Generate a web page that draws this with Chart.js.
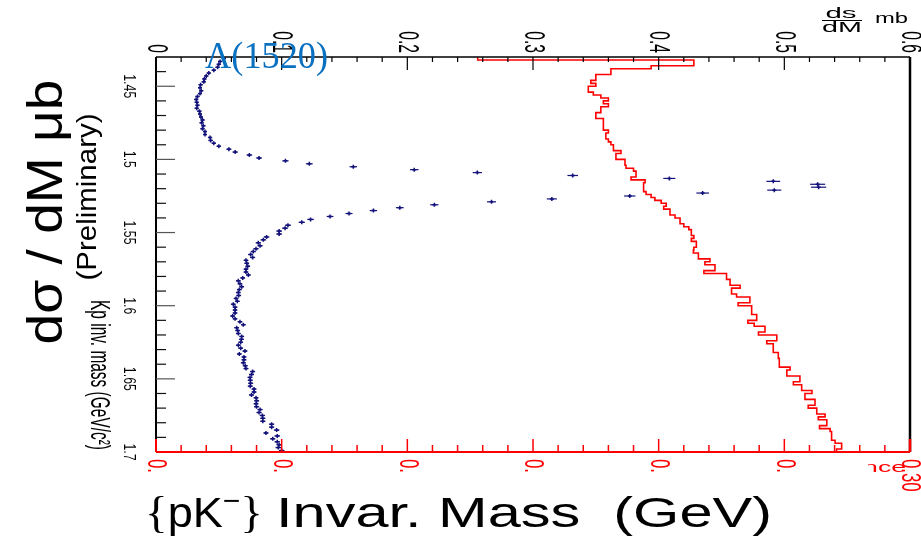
<!DOCTYPE html>
<html>
<head>
<meta charset="utf-8">
<script src="https://cdn.jsdelivr.net/npm/chart.js@4.4.1/dist/chart.umd.min.js"></script>
<style>
  html, body { margin: 0; padding: 0; background: #fff; }
  #wrap { width: 921px; height: 544px; position: relative; }
</style>
</head>
<body>
<div id="wrap"><canvas id="massChart" width="921" height="544"></canvas></div>
<script>
// K-p invariant mass bin centres (GeV), 2 MeV bins
const massCenters = [
  1.431,1.433,1.435,1.437,1.439,1.441,1.443,1.445,1.447,1.449,
  1.451,1.453,1.455,1.457,1.459,1.461,1.463,1.465,1.467,1.469,
  1.471,1.473,1.475,1.477,1.479,1.481,1.483,1.485,1.487,1.489,
  1.491,1.493,1.495,1.497,1.499,1.501,1.503,1.505,1.507,1.509,
  1.511,1.513,1.515,1.517,1.519,1.521,1.523,1.525,1.527,1.529,
  1.531,1.533,1.535,1.537,1.539,1.541,1.543,1.545,1.547,1.549,
  1.551,1.553,1.555,1.557,1.559,1.561,1.563,1.565,1.567,1.569,
  1.571,1.573,1.575,1.577,1.579,1.581,1.583,1.585,1.587,1.589,
  1.591,1.593,1.595,1.597,1.599,1.601,1.603,1.605,1.607,1.609,
  1.611,1.613,1.615,1.617,1.619,1.621,1.623,1.625,1.627,1.629,
  1.631,1.633,1.635,1.637,1.639,1.641,1.643,1.645,1.647,1.649,
  1.651,1.653,1.655,1.657,1.659,1.661,1.663,1.665,1.667,1.669,
  1.671,1.673,1.675,1.677,1.679,1.681,1.683,1.685,1.687,1.689,
  1.691,1.693,1.695,1.697,1.699
];

// dsigma/dM (mb), blue points
const xsValues = [
  0.054,0.051,0.050,0.049,0.046,0.042,0.040,0.0385,0.038,0.0355,
  0.035,0.036,0.035,0.033,0.032,0.0324,0.033,0.0324,0.0345,0.035,
  0.0358,0.037,0.0363,0.0377,0.037,0.039,0.039,0.043,0.0435,0.046,
  0.050,0.058,0.063,0.0743,0.082,0.103,0.122,0.157,0.2055,0.2557,
  0.3316,0.4085,0.4912,0.5265,0.5273,0.492,0.435,0.377,0.315,0.267,
  0.2215,0.194,0.173,0.1536,0.1385,0.123,0.116,0.105,0.1027,0.098,
  0.098,0.088,0.0854,0.0814,0.0828,0.0796,0.0774,0.0753,0.0769,0.0716,
  0.0722,0.073,0.0716,0.0716,0.0735,0.069,0.0655,0.0668,0.0682,0.0663,
  0.0655,0.0658,0.0637,0.0647,0.0615,0.0629,0.0629,0.0629,0.061,0.0629,
  0.0668,0.0695,0.0642,0.065,0.0655,0.0682,0.068,0.0674,0.0655,0.0674,
  0.0708,0.0663,0.070,0.070,0.0695,0.071,0.0716,0.0769,0.076,0.0748,
  0.075,0.0753,0.075,0.078,0.078,0.076,0.0796,0.0801,0.0796,0.080,
  0.0828,0.082,0.0846,0.085,0.085,0.092,0.092,0.096,0.0875,0.0965,
  0.0929,0.0965,0.098,0.0973,0.100
];

// statistical errors on dsigma/dM (mb)
const xsErrors = [
  0.0017,0.0017,0.0017,0.0017,0.0017,0.0016,0.0016,0.0016,0.0016,0.0016,
  0.0016,0.0016,0.0016,0.0016,0.0016,0.0016,0.0016,0.0016,0.0016,0.0016,
  0.0016,0.0016,0.0016,0.0016,0.0016,0.0016,0.0016,0.0017,0.0017,0.0017,
  0.0018,0.0020,0.0021,0.0022,0.0023,0.0025,0.0027,0.0030,0.0034,0.0037,
  0.0042,0.0048,0.0055,0.0060,0.0060,0.0056,0.0050,0.0045,0.0040,0.0036,
  0.0033,0.0031,0.0029,0.0028,0.0027,0.0026,0.0025,0.0024,0.0024,0.0023,
  0.0023,0.0022,0.0022,0.0021,0.0021,0.0021,0.0020,0.0020,0.0020,0.0019,
  0.0019,0.0019,0.0019,0.0019,0.0019,0.0019,0.0019,0.0019,0.0019,0.0019,
  0.0019,0.0019,0.0019,0.0019,0.0019,0.0019,0.0019,0.0019,0.0019,0.0019,
  0.0019,0.0019,0.0019,0.0019,0.0019,0.0019,0.0019,0.0019,0.0019,0.0019,
  0.0020,0.0019,0.0020,0.0020,0.0020,0.0020,0.0020,0.0020,0.0020,0.0020,
  0.0020,0.0020,0.0020,0.0020,0.0020,0.0020,0.0020,0.0020,0.0020,0.0020,
  0.0021,0.0021,0.0021,0.0021,0.0021,0.0021,0.0021,0.0022,0.0021,0.0022,
  0.0021,0.0022,0.0022,0.0022,0.0022
];

// acceptance, red histogram
const acceptance = [
  0.128,0.214,0.214,0.197,0.181,0.181,0.175,0.175,0.173,0.175,
  0.172,0.172,0.174,0.177,0.180,0.178,0.180,0.177,0.177,0.175,
  0.175,0.178,0.178,0.178,0.178,0.180,0.179,0.179,0.180,0.181,
  0.182,0.182,0.185,0.183,0.183,0.1866,0.1866,0.187,0.190,0.191,
  0.191,0.189,0.1946,0.194,0.194,0.194,0.195,0.197,0.1985,0.201,
  0.203,0.202,0.2045,0.2045,0.2065,0.2085,0.2085,0.210,0.212,0.213,
  0.213,0.214,0.213,0.215,0.215,0.214,0.2138,0.2158,0.2158,0.2204,
  0.2184,0.2224,0.2224,0.218,0.227,0.227,0.2284,0.2284,0.2324,0.229,
  0.229,0.231,0.2363,0.2363,0.2316,0.237,0.237,0.237,0.239,0.239,
  0.2355,0.238,0.2423,0.2423,0.2397,0.247,0.247,0.243,0.2456,0.2456,
  0.2456,0.2476,0.2476,0.248,0.248,0.248,0.2523,0.251,0.251,0.2562,
  0.2562,0.2536,0.2569,0.2569,0.261,0.2582,0.2582,0.2622,0.2622,0.2595,
  0.2629,0.2629,0.2662,0.2635,0.2669,0.2669,0.264,0.2682,0.2688,0.2688,
  0.2688,0.2702,0.2728,0.2728,0.2708
];

const binHalf = 0.001;

const topTicks = [0, 0.1, 0.2, 0.3, 0.4, 0.5, 0.6];
const topTickLabels = ['0', '0.1', '0.2', '0.3', '0.4', '0.5', '0.6'];
const accTicks = [0, 0.05, 0.10, 0.15, 0.20, 0.25, 0.30];
const accTickLabels = ['0.00', '0.05', '0.10', '0.15', '0.20', '0.25', '0.30'];
const massTicks = [1.45, 1.5, 1.55, 1.6, 1.65, 1.7];
const massTickLabels = ['1.45', '1.5', '1.55', '1.6', '1.65', '1.7'];

const pointColor = '#12127a';
const accColor = '#ff0000';
const lambdaColor = '#0a70c0';

// points for the step histogram: lower bin edges plus the last upper edge
const xsPoints = massCenters.map((m, i) => ({ x: xsValues[i], y: m }));
const accPoints = massCenters.map((m, i) => ({ x: acceptance[i], y: m - binHalf }));
accPoints.push({ x: acceptance[acceptance.length - 1], y: massCenters[massCenters.length - 1] + binHalf });

function drawText(c, s, x, y, o) {
    c.save();
    c.font = o.font;
    c.fillStyle = o.color || '#000';
    c.textAlign = o.align || 'center';
    c.textBaseline = o.base || 'middle';
    c.translate(x, y);
    if (o.rot) c.rotate(o.rot);
    let sx = o.sx || 1;
    if (o.width) sx = o.width / c.measureText(s).width;
    c.scale(sx, o.sy || 1);
    c.fillText(s, 0, 0);
    c.restore();
}

function line(c, x1, y1, x2, y2, color, w) {
    c.strokeStyle = color;
    c.lineWidth = w;
    c.beginPath();
    c.moveTo(x1, y1);
    c.lineTo(x2, y2);
    c.stroke();
}

// draws text pieces [text, font, dy] side by side, squeezed to a given width
function drawPieces(c, parts, x, y, width) {
    let total = 0;
    parts.forEach(p => { c.font = p[1]; total += c.measureText(p[0]).width; });
    c.save();
    c.translate(x, y);
    c.scale(width / total, 1);
    c.fillStyle = '#000';
    c.textAlign = 'left';
    c.textBaseline = 'alphabetic';
    let cx = 0;
    parts.forEach(p => {
        c.font = p[1];
        c.fillText(p[0], cx, p[2]);
        cx += c.measureText(p[0]).width;
    });
    c.restore();
}

// horizontal error bars on the cross-section points
const errorBars = {
    id: 'errorBars',
    afterDatasetsDraw(chart) {
        const c = chart.ctx;
        const xs = chart.scales.x, ys = chart.scales.y;
        c.save();
        massCenters.forEach((m, i) => {
            const py = ys.getPixelForValue(m);
            const x1 = xs.getPixelForValue(xsValues[i] - xsErrors[i]);
            const x2 = xs.getPixelForValue(xsValues[i] + xsErrors[i]);
            line(c, x1, py, x2, py, pointColor, 1.2);
        });
        c.restore();
    }
};

// frame, ticks, rotated labels and the slide annotations
const frame = {
    id: 'frame',
    afterDraw(chart) {
        const c = chart.ctx;
        const a = chart.chartArea;
        const xs = chart.scales.x, x2 = chart.scales.x2, ys = chart.scales.y;
        c.save();

        // top axis (dsigma/dM)
        line(c, a.left, a.top, a.right, a.top, '#000', 1.5);
        for (let v = 0.02; v < 0.6; v += 0.02) {
            const px = xs.getPixelForValue(v);
            const major = Math.abs(v * 10 - Math.round(v * 10)) < 1e-6;
            line(c, px, a.top, px, a.top + (major ? 13 : 5), '#000', 1.2);
        }
        topTicks.forEach((v, i) => {
            drawText(c, topTickLabels[i], xs.getPixelForValue(v), a.top - 4,
                { font: '30px "Liberation Sans"', rot: Math.PI / 2, align: 'right', sx: 0.52 });
        });

        // left axis (mass)
        line(c, a.left, a.top, a.left, a.bottom, '#000', 2);
        for (let m = 1.44; m < 1.6995; m += 0.01) {
            const py = ys.getPixelForValue(m);
            const major = Math.abs(m * 20 - Math.round(m * 20)) < 1e-6;
            line(c, a.left, py, a.left + (major ? 19 : 10), py, major ? '#555' : '#111', 1.2);
        }
        massTicks.forEach((m, i) => {
            drawText(c, massTickLabels[i], 128, ys.getPixelForValue(m),
                { font: '16px "Liberation Sans"', rot: Math.PI / 2, sx: 0.77 });
        });
        drawText(c, 'Kp inv. mass (GeV/c\u00B2)', 99, 375,
            { font: '28px "Liberation Sans"', rot: Math.PI / 2, width: 150 });

        // right axis
        line(c, a.right, a.top, a.right, a.bottom, '#000', 2.5);

        // bottom axis (acceptance), red
        line(c, a.left, a.bottom, a.right, a.bottom, accColor, 2);
        for (let v = 0.01; v < 0.3; v += 0.01) {
            const px = x2.getPixelForValue(v);
            const major = Math.abs(v * 20 - Math.round(v * 20)) < 1e-6;
            line(c, px, a.bottom, px, a.bottom - (major ? 13 : 7), accColor, 1.5);
        }
        line(c, a.left, a.bottom, a.left, a.bottom - 13, accColor, 2);
        line(c, a.right, a.bottom, a.right, a.bottom - 13, accColor, 2.5);

        c.save();
        c.beginPath();
        c.rect(0, 0, 921, 472);
        c.rect(898, 0, 23, 544);
        c.clip();
        accTicks.forEach((v, i) => {
            drawText(c, accTickLabels[i], x2.getPixelForValue(v), a.bottom + 7,
                { font: '28px "Liberation Sans"', rot: Math.PI / 2, align: 'left', sx: 0.6, color: accColor });
        });
        c.restore();

        c.save();
        c.beginPath();
        c.rect(868, 455, 40, 18);
        c.clip();
        drawText(c, 'Acceptance', 906, 472,
            { font: '14px "Liberation Sans"', align: 'right', base: 'alphabetic', sx: 1.9, color: accColor });
        c.restore();

        // top-right axis title
        drawText(c, 'ds', 841, 18, { font: '14px "Liberation Sans"', base: 'alphabetic', sx: 2.1 });
        line(c, 822, 20.5, 862, 20.5, '#000', 1.2);
        drawText(c, 'dM', 842, 32, { font: '14px "Liberation Sans"', base: 'alphabetic', sx: 2.05 });
        drawText(c, 'mb', 875, 23, { font: '14px "Liberation Sans"', align: 'left', base: 'alphabetic', sx: 1.7 });

        // slide annotations
        drawText(c, '\u039B(1520)', 205, 68, {
            font: '38px "Liberation Serif"', align: 'left', base: 'alphabetic', width: 123, color: lambdaColor });
        drawText(c, 'd\u03C3 / dM \u03BCb', 61.5, 212,
            { font: '50px "Liberation Sans"', rot: -Math.PI / 2, base: 'alphabetic', width: 265 });
        drawText(c, '(Preliminary)', 96, 197,
            { font: '27px "Liberation Sans"', rot: -Math.PI / 2, base: 'alphabetic', width: 167 });

        // bottom title: {pK-} in one block, the rest in another
        drawPieces(c, [
            ['{', '44px "Liberation Serif"', 0],
            ['pK', '42px "Liberation Sans"', 0],
            ['\u2212', '28px "Liberation Sans"', -17],
            ['}', '44px "Liberation Serif"', 0]
        ], 145, 527, 118);
        drawPieces(c, [
            ['Invar. Mass  (GeV)', '42px "Liberation Sans"', 0]
        ], 276, 527, 496);

        c.restore();
    }
};

const ctx = document.getElementById('massChart').getContext('2d');
new Chart(ctx, {
    type: 'scatter',
    data: {
        datasets: [{
            label: 'Acceptance',
            type: 'line',
            data: accPoints,
            xAxisID: 'x2',
            yAxisID: 'y',
            borderColor: accColor,
            borderWidth: 1.6,
            stepped: 'after',
            pointRadius: 0,
            fill: false,
            order: 2
        }, {
            label: 'dsigma/dM',
            data: xsPoints,
            xAxisID: 'x',
            yAxisID: 'y',
            pointStyle: 'cross',
            pointRadius: 2,
            borderColor: pointColor,
            backgroundColor: pointColor,
            borderWidth: 1.5,
            order: 1
        }]
    },
    options: {
        responsive: false,
        animation: false,
        devicePixelRatio: 1,
        layout: {
            padding: { left: 156, right: 11, top: 57, bottom: 92 }
        },
        plugins: {
            legend: { display: false },
            tooltip: { enabled: false }
        },
        scales: {
            x: { type: 'linear', position: 'top', min: 0, max: 0.6, display: false },
            x2: { type: 'linear', position: 'bottom', min: 0, max: 0.3, display: false },
            y: { type: 'linear', position: 'left', min: 1.43, max: 1.70, reverse: true, display: false }
        }
    },
    plugins: [errorBars, frame]
});
</script>
</body>
</html>
